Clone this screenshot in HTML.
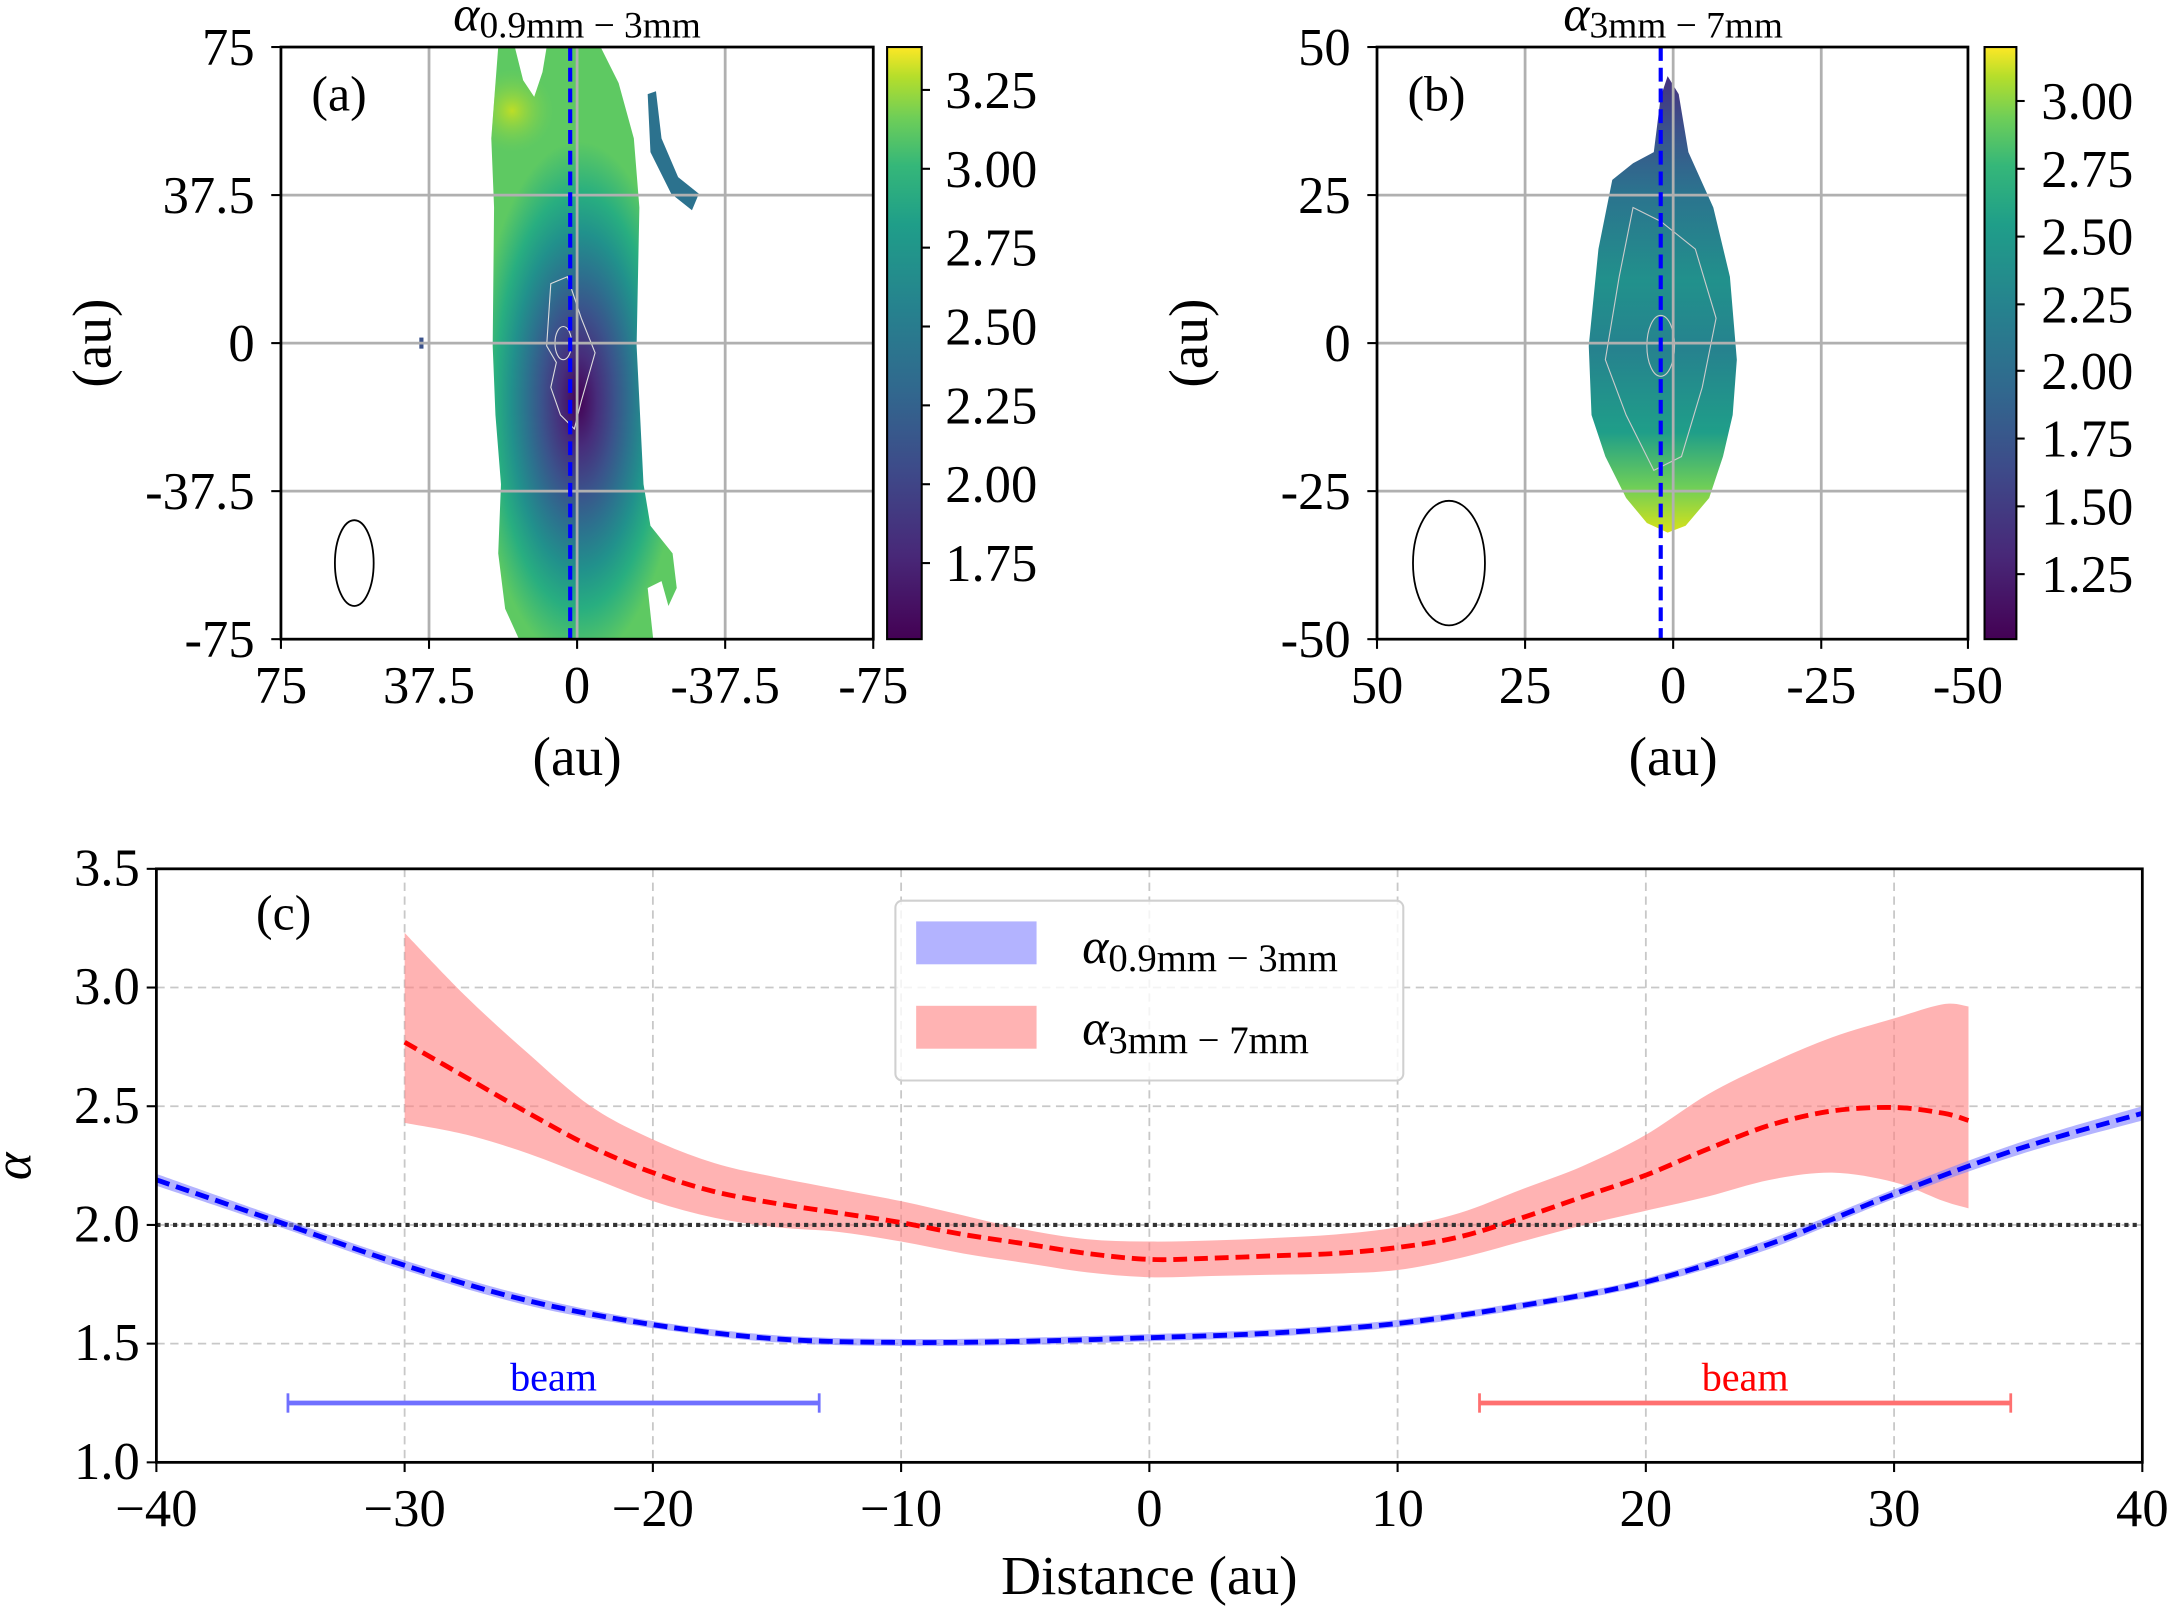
<!DOCTYPE html>
<html><head><meta charset="utf-8"><style>
html,body{margin:0;padding:0;background:#fff}
svg{display:block}
text{font-family:"Liberation Serif",serif;fill:#000}
</style></head><body>
<svg id="fig" width="2170" height="1609" viewBox="0 0 1568 1163" preserveAspectRatio="none" xmlns="http://www.w3.org/2000/svg">
<defs>
<linearGradient id="vir" x1="0" y1="1" x2="0" y2="0">
<stop offset="0" stop-color="#440154"/><stop offset=".14" stop-color="#482878"/><stop offset=".28" stop-color="#3e4989"/><stop offset=".42" stop-color="#31688e"/><stop offset=".56" stop-color="#26828e"/><stop offset=".70" stop-color="#1f9e89"/><stop offset=".80" stop-color="#35b779"/><stop offset=".88" stop-color="#6ece58"/><stop offset=".95" stop-color="#b5de2b"/><stop offset="1" stop-color="#fde725"/>
</linearGradient>
<radialGradient id="mapA" cx="418" cy="290" r="150" gradientUnits="userSpaceOnUse" gradientTransform="translate(418 290) scale(0.5 1.25) translate(-418 -290)">
<stop offset="0" stop-color="#440154"/><stop offset=".18" stop-color="#472d7b"/><stop offset=".35" stop-color="#3b528b"/><stop offset=".5" stop-color="#2c728e"/><stop offset=".65" stop-color="#21918c"/><stop offset=".8" stop-color="#28ae80"/><stop offset="1" stop-color="#5ec962"/>
</radialGradient>
<radialGradient id="hiA" cx="370" cy="80" r="30" gradientUnits="userSpaceOnUse">
<stop offset="0" stop-color="#c8e020" stop-opacity="0.9"/><stop offset="1" stop-color="#7ad151" stop-opacity="0"/>
</radialGradient>
<linearGradient id="mapB" x1="0" y1="55" x2="0" y2="385" gradientUnits="userSpaceOnUse">
<stop offset="0" stop-color="#46327e"/><stop offset=".12" stop-color="#3b528b"/><stop offset=".25" stop-color="#2c728e"/><stop offset=".45" stop-color="#21918c"/><stop offset=".6" stop-color="#26828e"/><stop offset=".78" stop-color="#1f9e89"/><stop offset=".9" stop-color="#6ece58"/><stop offset="1" stop-color="#d8e219"/>
</linearGradient>
<clipPath id="clipA"><rect x="203" y="34" width="428" height="428"/></clipPath>
<clipPath id="clipMapA"><path d="M360,34 L372,34 L378,58 L386,70 L392,52 L395,34 L434,34 L447,60 L458,100 L462,150 L460,250 L465,350 L470,380 L486,400 L489,425 L483,438 L478,420 L468,425 L472,462 L375,462 L365,440 L360,400 L362,350 L358,300 L356,250 L357,150 L355,100 Z"/></clipPath>
<clipPath id="clipC"><rect x="113" y="628" width="1435" height="429"/></clipPath>
</defs>

<!-- Panel a -->
<g>
<g clip-path="url(#clipA)">
<path fill="url(#mapA)" d="M360,34 L372,34 L378,58 L386,70 L392,52 L395,34 L434,34 L447,60 L458,100 L462,150 L460,250 L465,350 L470,380 L486,400 L489,425 L483,438 L478,420 L468,425 L472,462 L375,462 L365,440 L360,400 L362,350 L358,300 L356,250 L357,150 L355,100 Z"/>
<g clip-path="url(#clipMapA)"><ellipse cx="370" cy="80" rx="30" ry="40" fill="url(#hiA)"/></g>
<path fill="#2c728e" d="M468,68 L474,66 L478,100 L490,128 L505,140 L500,152 L485,140 L470,110 Z"/>
<rect x="303" y="244" width="3" height="8" fill="#3b528b"/>
<path d="M398,205 L410,200 L420,230 L430,255 L420,290 L415,310 L405,300 L398,280 L402,262 L395,250 Z" fill="none" stroke="#ddd" stroke-width="0.8"/>
<ellipse cx="407" cy="248" rx="6" ry="12" fill="none" stroke="#ddd" stroke-width="0.8"/>
</g>
<g stroke="#b0b0b0" stroke-width="2">
<line x1="310" y1="34" x2="310" y2="462"/><line x1="417" y1="34" x2="417" y2="462"/><line x1="524" y1="34" x2="524" y2="462"/>
<line x1="203" y1="141" x2="631" y2="141"/><line x1="203" y1="248" x2="631" y2="248"/><line x1="203" y1="355" x2="631" y2="355"/>
</g>
<line x1="412" y1="34" x2="412" y2="462" stroke="#0000ff" stroke-width="3" stroke-dasharray="10,5"/>
<ellipse cx="256" cy="407" rx="14" ry="31" fill="none" stroke="#000" stroke-width="1.3"/>
<rect x="203" y="34" width="428" height="428" fill="none" stroke="#000" stroke-width="2"/>
<text x="225" y="80" font-size="36">(a)</text>
<text x="417" y="22" font-size="36" text-anchor="middle"><tspan font-style="italic">α</tspan><tspan font-size="27" dy="5">0.9mm − 3mm</tspan></text>
<g font-size="38" text-anchor="end">
<text x="184" y="47">75</text><text x="184" y="154">37.5</text><text x="184" y="261">0</text><text x="184" y="368">-37.5</text><text x="184" y="475">-75</text>
</g>
<g stroke="#000" stroke-width="1.5"><line x1="196" y1="34" x2="203" y2="34"/><line x1="196" y1="141" x2="203" y2="141"/><line x1="196" y1="248" x2="203" y2="248"/><line x1="196" y1="355" x2="203" y2="355"/><line x1="196" y1="462" x2="203" y2="462"/>
<line x1="203" y1="462" x2="203" y2="469"/><line x1="310" y1="462" x2="310" y2="469"/><line x1="417" y1="462" x2="417" y2="469"/><line x1="524" y1="462" x2="524" y2="469"/><line x1="631" y1="462" x2="631" y2="469"/></g>
<g font-size="38" text-anchor="middle">
<text x="203" y="508">75</text><text x="310" y="508">37.5</text><text x="417" y="508">0</text><text x="524" y="508">-37.5</text><text x="631" y="508">-75</text>
</g>
<text x="417" y="560" font-size="40" text-anchor="middle">(au)</text>
<text transform="translate(80,248) rotate(-90)" font-size="40" text-anchor="middle">(au)</text>
<rect x="641" y="34" width="25" height="428" fill="url(#vir)" stroke="#000" stroke-width="1.5"/>
<g font-size="38"><text x="683" y="78">3.25</text><text x="683" y="135">3.00</text><text x="683" y="192">2.75</text><text x="683" y="249">2.50</text><text x="683" y="306">2.25</text><text x="683" y="363">2.00</text><text x="683" y="420">1.75</text></g>
<g stroke="#000" stroke-width="1.5"><line x1="666" y1="65" x2="672" y2="65"/><line x1="666" y1="122" x2="672" y2="122"/><line x1="666" y1="179" x2="672" y2="179"/><line x1="666" y1="236" x2="672" y2="236"/><line x1="666" y1="293" x2="672" y2="293"/><line x1="666" y1="350" x2="672" y2="350"/><line x1="666" y1="407" x2="672" y2="407"/></g>
</g>

<!-- Panel b -->
<g>
<path fill="url(#mapB)" d="M1205,55 L1213,68 L1220,110 L1238,150 L1250,200 L1255,260 L1252,300 L1245,330 L1235,360 L1218,380 L1205,385 L1190,378 L1175,360 L1160,330 L1150,300 L1148,250 L1155,180 L1165,130 L1180,118 L1195,110 L1200,70 Z"/>
<path d="M1180,150 L1200,160 L1225,180 L1240,230 L1230,280 L1215,330 L1195,340 L1175,300 L1160,260 L1170,200 Z" fill="none" stroke="#ccc" stroke-width="0.8"/>
<ellipse cx="1200" cy="250" rx="10" ry="22" fill="none" stroke="#ccc" stroke-width="0.8"/>
<g stroke="#b0b0b0" stroke-width="2">
<line x1="1102" y1="34" x2="1102" y2="462"/><line x1="1209" y1="34" x2="1209" y2="462"/><line x1="1316" y1="34" x2="1316" y2="462"/>
<line x1="995" y1="141" x2="1422" y2="141"/><line x1="995" y1="248" x2="1422" y2="248"/><line x1="995" y1="355" x2="1422" y2="355"/>
</g>
<line x1="1200" y1="34" x2="1200" y2="462" stroke="#0000ff" stroke-width="3" stroke-dasharray="10,5"/>
<ellipse cx="1047" cy="407" rx="26" ry="45" fill="none" stroke="#000" stroke-width="1.3"/>
<rect x="995" y="34" width="427" height="428" fill="none" stroke="#000" stroke-width="2"/>
<text x="1017" y="80" font-size="36">(b)</text>
<text x="1209" y="22" font-size="36" text-anchor="middle"><tspan font-style="italic">α</tspan><tspan font-size="27" dy="5">3mm − 7mm</tspan></text>
<g font-size="38" text-anchor="end">
<text x="976" y="47">50</text><text x="976" y="154">25</text><text x="976" y="261">0</text><text x="976" y="368">-25</text><text x="976" y="475">-50</text>
</g>
<g stroke="#000" stroke-width="1.5"><line x1="988" y1="34" x2="995" y2="34"/><line x1="988" y1="141" x2="995" y2="141"/><line x1="988" y1="248" x2="995" y2="248"/><line x1="988" y1="355" x2="995" y2="355"/><line x1="988" y1="462" x2="995" y2="462"/>
<line x1="995" y1="462" x2="995" y2="469"/><line x1="1102" y1="462" x2="1102" y2="469"/><line x1="1209" y1="462" x2="1209" y2="469"/><line x1="1316" y1="462" x2="1316" y2="469"/><line x1="1422" y1="462" x2="1422" y2="469"/></g>
<g font-size="38" text-anchor="middle">
<text x="995" y="508">50</text><text x="1102" y="508">25</text><text x="1209" y="508">0</text><text x="1316" y="508">-25</text><text x="1422" y="508">-50</text>
</g>
<text x="1209" y="560" font-size="40" text-anchor="middle">(au)</text>
<text transform="translate(872,248) rotate(-90)" font-size="40" text-anchor="middle">(au)</text>
<rect x="1434" y="34" width="23" height="428" fill="url(#vir)" stroke="#000" stroke-width="1.5"/>
<g font-size="38"><text x="1475" y="86">3.00</text><text x="1475" y="135">2.75</text><text x="1475" y="184">2.50</text><text x="1475" y="233">2.25</text><text x="1475" y="281">2.00</text><text x="1475" y="330">1.75</text><text x="1475" y="379">1.50</text><text x="1475" y="428">1.25</text></g>
<g stroke="#000" stroke-width="1.5"><line x1="1457" y1="73" x2="1463" y2="73"/><line x1="1457" y1="122" x2="1463" y2="122"/><line x1="1457" y1="171" x2="1463" y2="171"/><line x1="1457" y1="220" x2="1463" y2="220"/><line x1="1457" y1="268" x2="1463" y2="268"/><line x1="1457" y1="317" x2="1463" y2="317"/><line x1="1457" y1="366" x2="1463" y2="366"/><line x1="1457" y1="415" x2="1463" y2="415"/></g>
</g>

<g id="panelC"></g>
</svg>
<script>
const xTicks = [-40,-30,-20,-10,0,10,20,30,40];
const xTickLabels = ["\u221240","\u221230","\u221220","\u221210","0","10","20","30","40"];
const yTicks = [1.0,1.5,2.0,2.5,3.0,3.5];
const yTickLabels = ["1.0","1.5","2.0","2.5","3.0","3.5"];
const blueX = [-40,-35,-30,-25,-20,-15,-10,-5,0,5,10,15,20,25,30,35,40];
const blueY = [2.19,2.01,1.83,1.68,1.58,1.52,1.505,1.51,1.525,1.545,1.585,1.66,1.76,1.92,2.13,2.32,2.47];
const blueErr = [0.025,0.02,0.02,0.02,0.015,0.015,0.015,0.015,0.015,0.015,0.015,0.015,0.015,0.02,0.02,0.025,0.03];
const redX = [-30,-27.5,-25,-22.5,-20,-17.5,-15,-12.5,-10,-7.5,-5,-2.5,0,2.5,5,7.5,10,12.5,15,17.5,20,22.5,25,27.5,30,32,33];
const redY = [2.77,2.62,2.47,2.33,2.22,2.14,2.09,2.05,2.01,1.96,1.92,1.88,1.855,1.86,1.87,1.88,1.905,1.95,2.03,2.12,2.21,2.32,2.42,2.48,2.495,2.47,2.44];
const redHi = [3.23,2.96,2.72,2.50,2.36,2.26,2.20,2.15,2.10,2.04,1.98,1.94,1.93,1.935,1.945,1.96,1.99,2.05,2.15,2.25,2.38,2.55,2.68,2.79,2.87,2.93,2.92];
const redLo = [2.43,2.38,2.30,2.20,2.10,2.03,1.99,1.97,1.93,1.88,1.84,1.80,1.78,1.785,1.79,1.795,1.81,1.86,1.93,2.00,2.06,2.12,2.19,2.22,2.18,2.10,2.07];
const refLevel = 2.0;
const beamBlue = [-34.7,-13.3];
const beamRed = [13.3,34.7];
const beamLevel = 1.25;

const NS = "http://www.w3.org/2000/svg";
const L=113,R=1548,T=628,B=1057;
const sx = d => L + (d+40)/80*(R-L);
const sy = v => B - (v-1.0)/2.5*(B-T);
const g = document.getElementById('panelC');
function mk(tag, attrs, parent){ const e=document.createElementNS(NS,tag); for(const k in attrs) e.setAttribute(k,attrs[k]); (parent||g).appendChild(e); return e; }
function smooth(pts, move){
  let d=(move?'M':'L')+pts[0][0].toFixed(1)+','+pts[0][1].toFixed(1);
  for(let i=0;i<pts.length-1;i++){
    const p0=pts[Math.max(0,i-1)],p1=pts[i],p2=pts[i+1],p3=pts[Math.min(pts.length-1,i+2)];
    const c1=[p1[0]+(p2[0]-p0[0])/6,p1[1]+(p2[1]-p0[1])/6];
    const c2=[p2[0]-(p3[0]-p1[0])/6,p2[1]-(p3[1]-p1[1])/6];
    d+='C'+c1[0].toFixed(1)+','+c1[1].toFixed(1)+' '+c2[0].toFixed(1)+','+c2[1].toFixed(1)+' '+p2[0].toFixed(1)+','+p2[1].toFixed(1);
  }
  return d;
}
function line(xs,ys){ return smooth(xs.map((x,i)=>[sx(x),sy(ys[i])]),true); }
function band(xs,lo,hi){
  const top=xs.map((x,i)=>[sx(x),sy(hi[i])]);
  const bot=xs.map((x,i)=>[sx(x),sy(lo[i])]).reverse();
  return smooth(top,true)+smooth(bot,false)+'Z';
}

xTicks.forEach(t=>{ const e=mk('line',{x1:sx(t),x2:sx(t),y1:T,y2:B,stroke:'#c8c8c8','stroke-width':1.3,'stroke-dasharray':'6,4'});
  });
yTicks.forEach(t=>{ const e=mk('line',{x1:L,x2:R,y1:sy(t),y2:sy(t),stroke:'#c8c8c8','stroke-width':1.3,'stroke-dasharray':'6,4'});
  });

const clipG = mk('g',{'clip-path':'url(#clipC)'});
let e;
e = mk('path',{d:band(redX,redLo,redHi),fill:'#ff8080','fill-opacity':0.6},clipG);
 
e = mk('line',{x1:L,x2:R,y1:sy(refLevel),y2:sy(refLevel),stroke:'#333','stroke-width':3,'stroke-dasharray':'3,3'},clipG);
 
e = mk('path',{d:band(blueX,blueY.map((v,i)=>v-blueErr[i]),blueY.map((v,i)=>v+blueErr[i])),fill:'#8080ff','fill-opacity':0.6},clipG);
 
e = mk('path',{d:line(blueX,blueY),fill:'none',stroke:'#0000ff','stroke-width':3.5,'stroke-dasharray':'10,5'},clipG);
 
e = mk('path',{d:line(redX,redY),fill:'none',stroke:'#ff0000','stroke-width':3.5,'stroke-dasharray':'10,5'},clipG);
 

function beam(rng,color,tcolor,name){
  const y=sy(beamLevel);
  const b=mk('g',{});
   
  mk('line',{x1:sx(rng[0]),x2:sx(rng[1]),y1:y,y2:y,stroke:color,'stroke-width':3.5},b);
  mk('line',{x1:sx(rng[0]),x2:sx(rng[0]),y1:y-7,y2:y+7,stroke:color,'stroke-width':2},b);
  mk('line',{x1:sx(rng[1]),x2:sx(rng[1]),y1:y-7,y2:y+7,stroke:color,'stroke-width':2},b);
  const t=mk('text',{x:(sx(rng[0])+sx(rng[1]))/2,y:y-9,'font-size':29,'text-anchor':'middle',style:'fill:'+tcolor},b);
  t.textContent='beam';
}
beam(beamBlue,'#7070ff','#0000ff','beam-blue');
beam(beamRed,'#ff7070','#ff0000','beam-red');

mk('rect',{x:L,y:T,width:R-L,height:B-T,fill:'none',stroke:'#000','stroke-width':2});
xTicks.forEach((t,i)=>{ mk('line',{x1:sx(t),x2:sx(t),y1:B,y2:B+7,stroke:'#000','stroke-width':1.5});
  const tx=mk('text',{x:sx(t),y:B+46,'font-size':38,'text-anchor':'middle'}); tx.textContent=xTickLabels[i];
    });
yTicks.forEach((t,i)=>{ mk('line',{x1:L-7,x2:L,y1:sy(t),y2:sy(t),stroke:'#000','stroke-width':1.5});
  const tx=mk('text',{x:L-12,y:sy(t)+12,'font-size':38,'text-anchor':'end'}); tx.textContent=yTickLabels[i];
    });
e=mk('text',{x:(L+R)/2,y:1152,'font-size':40,'text-anchor':'middle'}); e.textContent='Distance (au)';
 
e=mk('text',{x:0,y:0,'font-size':38,'text-anchor':'middle','font-style':'italic',transform:'translate(22,843) rotate(-90)'}); e.textContent='α';
 
e=mk('text',{x:185,y:672,'font-size':36}); e.textContent='(c)';

const lg=mk('g',{});
 
mk('rect',{x:647,y:651,width:367,height:130,rx:5,fill:'#fff','fill-opacity':0.8,stroke:'#d0d0d0','stroke-width':1.5},lg);
const le1=mk('g',{},lg);  
mk('rect',{x:662,y:666,width:87,height:31,fill:'#8080ff','fill-opacity':0.6},le1);
e=mk('text',{x:782,y:696,'font-size':36},le1); e.innerHTML='<tspan font-style="italic">α</tspan><tspan font-size="28" dy="6">0.9mm − 3mm</tspan>';
const le2=mk('g',{},lg);  
mk('rect',{x:662,y:727,width:87,height:31,fill:'#ff8080','fill-opacity':0.6},le2);
e=mk('text',{x:782,y:755,'font-size':36},le2); e.innerHTML='<tspan font-style="italic">α</tspan><tspan font-size="28" dy="6">3mm − 7mm</tspan>';
</script>
</body></html>
